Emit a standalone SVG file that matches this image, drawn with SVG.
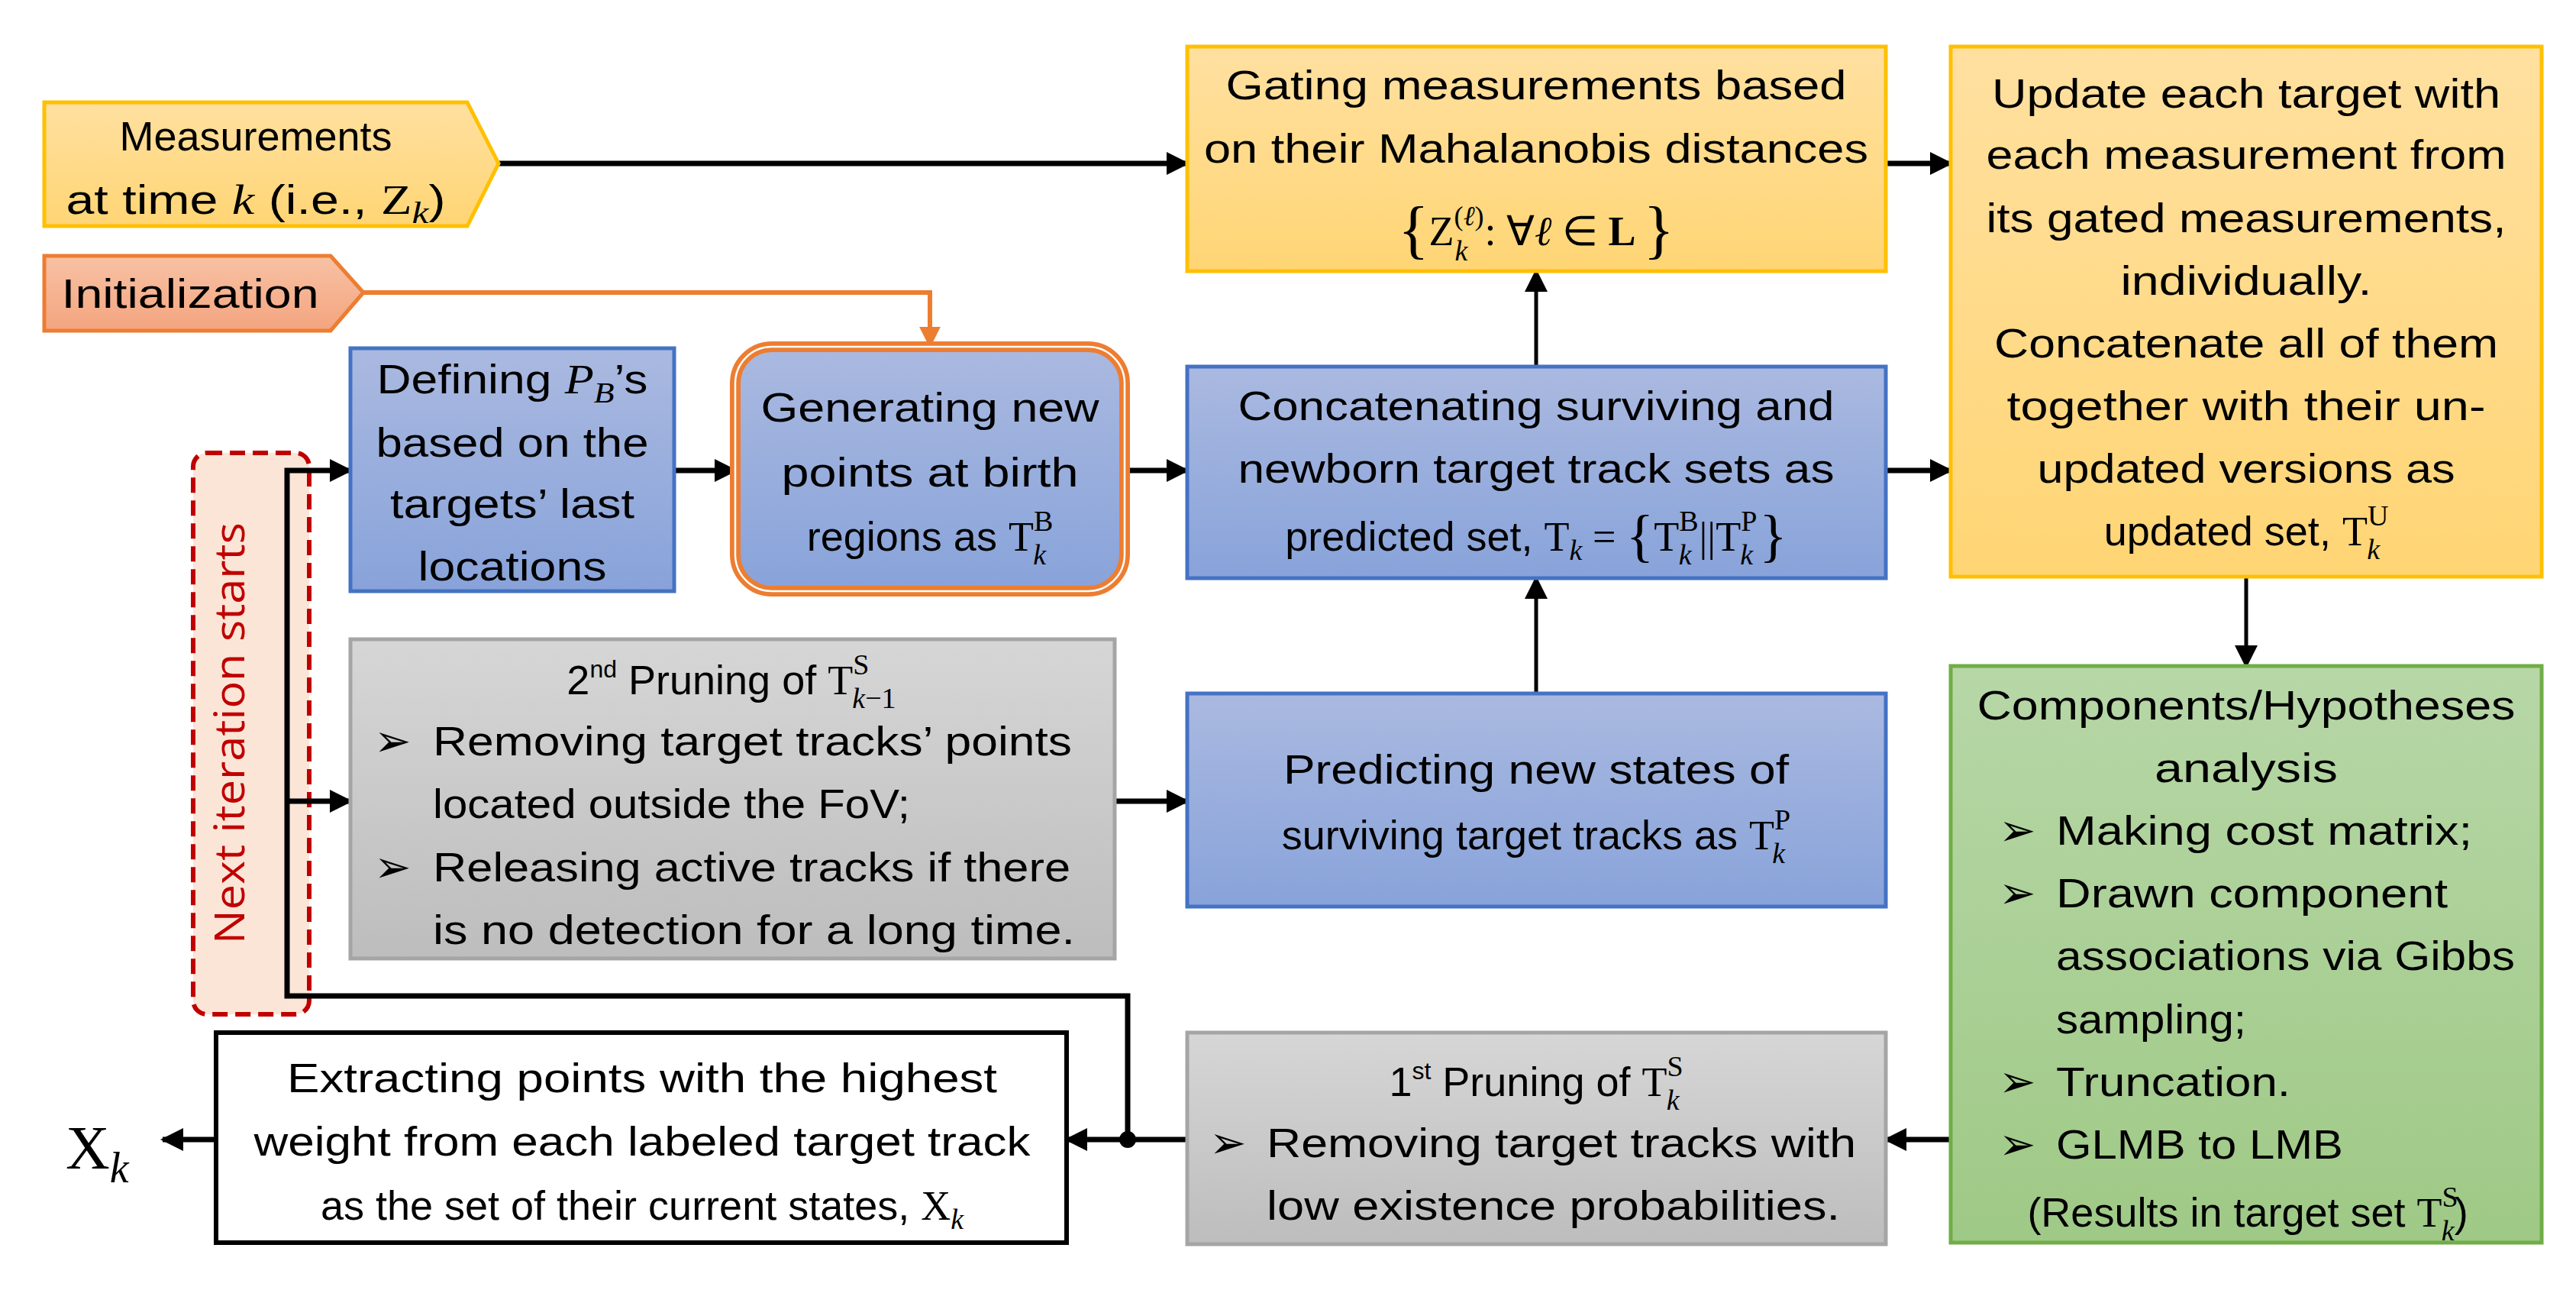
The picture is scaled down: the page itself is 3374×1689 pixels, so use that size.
<svg xmlns="http://www.w3.org/2000/svg" width="3374" height="1689" viewBox="0 0 3374 1689">
<style>
.t{font-family:"Liberation Sans",Arial,sans-serif;font-size:54px;fill:#000;text-anchor:middle}
.s{text-anchor:start}
.m{font-family:"Liberation Serif","Times New Roman",serif}
.i{font-style:italic;font-family:"Liberation Serif","Times New Roman",serif}
.b{font-family:"DejaVu Sans",sans-serif;font-size:58px}
.c{fill:none;stroke:#000;stroke-width:7}
.v{fill:none;stroke:#000;stroke-width:5}
</style>
<defs>
<linearGradient id="gy" x1="0" y1="0" x2="0" y2="1"><stop offset="0" stop-color="#FFE0A0"/><stop offset="1" stop-color="#FFD574"/></linearGradient>
<linearGradient id="gb" x1="0" y1="0" x2="0" y2="1"><stop offset="0" stop-color="#AAB9E0"/><stop offset="1" stop-color="#88A3DA"/></linearGradient>
<linearGradient id="gg" x1="0" y1="0" x2="0" y2="1"><stop offset="0" stop-color="#D6D6D6"/><stop offset="1" stop-color="#BDBDBD"/></linearGradient>
<linearGradient id="gr" x1="0" y1="0" x2="0" y2="1"><stop offset="0" stop-color="#B7D7A7"/><stop offset="1" stop-color="#9FC986"/></linearGradient>
<linearGradient id="go" x1="0" y1="0" x2="0" y2="1"><stop offset="0" stop-color="#F7C2A4"/><stop offset="1" stop-color="#F4A47F"/></linearGradient>
<marker id="a" viewBox="0 0 10 10" refX="9" refY="5" markerWidth="30" markerHeight="30" markerUnits="userSpaceOnUse" orient="auto"><path d="M0,0 L10,5 L0,10 z" fill="#000"/></marker>
<marker id="ao" viewBox="0 0 10 10" refX="9" refY="5" markerWidth="28" markerHeight="28" markerUnits="userSpaceOnUse" orient="auto"><path d="M0,0 L10,5 L0,10 z" fill="#ED7D31"/></marker>
</defs>
<rect width="3374" height="1689" fill="#fff"/>

<g id="next-iteration">
<rect x="253" y="593" width="152" height="735" rx="18" fill="#FBE5D6" stroke="#C00000" stroke-width="6" stroke-dasharray="20,10"/>
<text class="t" transform="translate(320,960) rotate(-90)" style="font-family:'Open Sans','Liberation Sans',sans-serif;fill:#C00000" font-size="58" textLength="552" lengthAdjust="spacingAndGlyphs">Next iteration starts</text>
</g>

<g id="connectors">
<path class="c" d="M653,214 H1555" marker-end="url(#a)"/>
<path d="M476,383 H1218 V453" fill="none" stroke="#ED7D31" stroke-width="6" marker-end="url(#ao)"/>
<path class="c" d="M2470,214 H2555" marker-end="url(#a)"/>
<path class="c" d="M1477,1492 V1304 H376 V616 H459" marker-end="url(#a)"/>
<path class="c" d="M376,1049 H459" marker-end="url(#a)"/>
<path class="c" d="M883,616 H963" marker-end="url(#a)"/>
<path class="c" d="M1473,616 H1555" marker-end="url(#a)"/>
<path class="c" d="M2470,616 H2555" marker-end="url(#a)"/>
<path class="v" d="M2012,480 V355" marker-end="url(#a)"/>
<path class="v" d="M2012,908 V757" marker-end="url(#a)"/>
<path class="c" d="M1460,1049 H1555" marker-end="url(#a)"/>
<path class="v" d="M2942,755 V872" marker-end="url(#a)"/>
<path class="c" d="M2555,1492 H2470" marker-end="url(#a)"/>
<path class="c" d="M1555,1492 H1397" marker-end="url(#a)"/>
<path class="c" d="M283,1492 H213" marker-end="url(#a)"/>
<circle cx="1477" cy="1492" r="11" fill="#000"/>
</g>

<g id="measurements">
<path d="M58,134 H612 L653,214 L612,296 H58 Z" fill="url(#gy)" stroke="#FFC000" stroke-width="5"/>
<text class="t" x="335" y="197" font-size="58" textLength="357" lengthAdjust="spacingAndGlyphs">Measurements</text>
<text class="t" x="335" y="280" font-size="58" textLength="497" lengthAdjust="spacingAndGlyphs">at time <tspan class="i">k</tspan> (i.e., <tspan class="m">Z</tspan><tspan class="i" font-size="40" dy="12">k</tspan><tspan dy="-12">)</tspan></text>
</g>

<g id="initialization">
<path d="M58,335 H433 L476,383 L433,433 H58 Z" fill="url(#go)" stroke="#ED7D31" stroke-width="5"/>
<text class="t" x="249" y="403" font-size="58" textLength="337" lengthAdjust="spacingAndGlyphs">Initialization</text>
</g>

<g id="gating">
<rect x="1555" y="61" width="915" height="294" fill="url(#gy)" stroke="#FFC000" stroke-width="5"/>
<text class="t" x="2012" y="130" textLength="813" lengthAdjust="spacingAndGlyphs">Gating measurements based</text>
<text class="t" x="2012" y="213" textLength="870" lengthAdjust="spacingAndGlyphs">on their Mahalanobis distances</text>
<text class="t m" x="2012" y="321"><tspan font-size="84" dy="8">{</tspan><tspan dy="-8">Z</tspan><tspan font-size="36" dy="-26">(</tspan><tspan class="i" font-size="36">ℓ</tspan><tspan font-size="36">)</tspan><tspan class="i" font-size="38" dx="-38" dy="46">k</tspan><tspan dx="22" dy="-20">:   ∀</tspan><tspan class="i">ℓ</tspan><tspan> ∈ </tspan><tspan font-weight="bold">L</tspan><tspan font-size="84" dx="10" dy="8">}</tspan></text>
</g>

<g id="update">
<rect x="2555" y="61" width="774" height="694" fill="url(#gy)" stroke="#FFC000" stroke-width="5"/>
<text class="t" x="2942" y="141" textLength="666" lengthAdjust="spacingAndGlyphs">Update each target with</text>
<text class="t" x="2942" y="221" textLength="681" lengthAdjust="spacingAndGlyphs">each measurement from</text>
<text class="t" x="2942" y="304" textLength="681" lengthAdjust="spacingAndGlyphs">its gated measurements,</text>
<text class="t" x="2942" y="386" textLength="329" lengthAdjust="spacingAndGlyphs">individually.</text>
<text class="t" x="2942" y="468" textLength="660" lengthAdjust="spacingAndGlyphs">Concatenate all of them</text>
<text class="t" x="2942" y="550" textLength="627" lengthAdjust="spacingAndGlyphs">together with their un-</text>
<text class="t" x="2942" y="632" textLength="547" lengthAdjust="spacingAndGlyphs">updated versions as</text>
<text class="t" x="2942" y="714">updated set,  <tspan class="m">T</tspan><tspan class="m" font-size="38" dy="-26">U</tspan><tspan class="i" font-size="38" dx="-28" dy="44">k</tspan></text>
</g>

<g id="defining">
<rect x="459" y="456" width="424" height="318" fill="url(#gb)" stroke="#4472C4" stroke-width="5"/>
<text class="t" x="671" y="515" textLength="355" lengthAdjust="spacingAndGlyphs">Defining <tspan class="i">P</tspan><tspan class="i" font-size="38" dy="12">B</tspan><tspan dy="-12">’s</tspan></text>
<text class="t" x="671" y="598" textLength="357" lengthAdjust="spacingAndGlyphs">based on the</text>
<text class="t" x="671" y="678" textLength="320" lengthAdjust="spacingAndGlyphs">targets’ last</text>
<text class="t" x="671" y="760" textLength="247" lengthAdjust="spacingAndGlyphs">locations</text>
</g>

<g id="generating">
<rect x="963" y="454" width="510" height="320" rx="48" fill="url(#gb)" stroke="#ED7D31" stroke-width="14"/>
<rect x="963" y="454" width="510" height="320" rx="48" fill="none" stroke="#fff" stroke-width="2.5"/>
<text class="t" x="1218" y="552" textLength="443" lengthAdjust="spacingAndGlyphs">Generating new</text>
<text class="t" x="1218" y="637" textLength="389" lengthAdjust="spacingAndGlyphs">points at birth</text>
<text class="t" x="1218" y="721">regions as <tspan class="m">T</tspan><tspan class="m" font-size="38" dy="-26">B</tspan><tspan class="i" font-size="38" dx="-26" dy="44">k</tspan></text>
</g>

<g id="concatenating">
<rect x="1555" y="480" width="915" height="277" fill="url(#gb)" stroke="#4472C4" stroke-width="5"/>
<text class="t" x="2012" y="550" textLength="781" lengthAdjust="spacingAndGlyphs">Concatenating surviving and</text>
<text class="t" x="2012" y="632" textLength="781" lengthAdjust="spacingAndGlyphs">newborn target track sets as</text>
<text class="t" x="2012" y="721">predicted set,  <tspan class="m">T</tspan><tspan class="i" font-size="38" dy="12">k</tspan><tspan class="m" dy="-12"> = </tspan><tspan class="m" font-size="76" dy="6">{</tspan><tspan class="m" dy="-6">T</tspan><tspan class="m" font-size="38" dy="-26">B</tspan><tspan class="i" font-size="38" dx="-26" dy="44">k</tspan><tspan class="m" dx="10" dy="-18">||T</tspan><tspan class="m" font-size="38" dy="-26">P</tspan><tspan class="i" font-size="38" dx="-22" dy="44">k</tspan><tspan class="m" font-size="76" dx="8" dy="-12">}</tspan></text>
</g>

<g id="pruning2">
<rect x="459" y="837" width="1001" height="418" fill="url(#gg)" stroke="#A5A5A5" stroke-width="5"/>
<text class="t" x="958" y="909">2<tspan font-size="32" dy="-22">nd</tspan><tspan dy="22"> Pruning of </tspan><tspan class="m">T</tspan><tspan class="m" font-size="38" dy="-26">S</tspan><tspan class="i" font-size="38" dx="-22" dy="44">k</tspan><tspan class="m" font-size="38">−1</tspan></text>
<text class="t b s" x="490" y="990">➢</text>
<text class="t s" x="567" y="989" textLength="837" lengthAdjust="spacingAndGlyphs">Removing target tracks’ points</text>
<text class="t s" x="567" y="1071" textLength="625" lengthAdjust="spacingAndGlyphs">located outside the FoV;</text>
<text class="t b s" x="490" y="1155">➢</text>
<text class="t s" x="567" y="1154" textLength="835" lengthAdjust="spacingAndGlyphs">Releasing active tracks if there</text>
<text class="t s" x="567" y="1236" textLength="841" lengthAdjust="spacingAndGlyphs">is no detection for a long time.</text>
</g>

<g id="predicting">
<rect x="1555" y="908" width="915" height="279" fill="url(#gb)" stroke="#4472C4" stroke-width="5"/>
<text class="t" x="2012" y="1026" textLength="662" lengthAdjust="spacingAndGlyphs">Predicting new states of</text>
<text class="t" x="2012" y="1112">surviving target tracks as <tspan class="m">T</tspan><tspan class="m" font-size="38" dy="-26">P</tspan><tspan class="i" font-size="38" dx="-24" dy="44">k</tspan></text>
</g>

<g id="components">
<rect x="2555" y="872" width="774" height="755" fill="url(#gr)" stroke="#70AD47" stroke-width="5"/>
<text class="t" x="2942" y="942" textLength="705" lengthAdjust="spacingAndGlyphs">Components/Hypotheses</text>
<text class="t" x="2942" y="1024" textLength="240" lengthAdjust="spacingAndGlyphs">analysis</text>
<text class="t b s" x="2618" y="1107">➢</text>
<text class="t s" x="2693" y="1106" textLength="545" lengthAdjust="spacingAndGlyphs">Making cost matrix;</text>
<text class="t b s" x="2618" y="1189">➢</text>
<text class="t s" x="2693" y="1188" textLength="513" lengthAdjust="spacingAndGlyphs">Drawn component</text>
<text class="t s" x="2693" y="1270" textLength="601" lengthAdjust="spacingAndGlyphs">associations via Gibbs</text>
<text class="t s" x="2693" y="1353" textLength="249" lengthAdjust="spacingAndGlyphs">sampling;</text>
<text class="t b s" x="2618" y="1436">➢</text>
<text class="t s" x="2693" y="1435" textLength="307" lengthAdjust="spacingAndGlyphs">Truncation.</text>
<text class="t b s" x="2618" y="1518">➢</text>
<text class="t s" x="2693" y="1517" textLength="376" lengthAdjust="spacingAndGlyphs">GLMB to LMB</text>
<text class="t" x="2944" y="1606">(Results in target set <tspan class="m">T</tspan><tspan class="m" font-size="38" dy="-26">S</tspan><tspan class="i" font-size="38" dx="-22" dy="44">k</tspan><tspan dy="-18">)</tspan></text>
</g>

<g id="pruning1">
<rect x="1555" y="1352" width="915" height="277" fill="url(#gg)" stroke="#A5A5A5" stroke-width="5"/>
<text class="t" x="2012" y="1435">1<tspan font-size="32" dy="-22">st</tspan><tspan dy="22"> Pruning of </tspan><tspan class="m">T</tspan><tspan class="m" font-size="38" dy="-26">S</tspan><tspan class="i" font-size="38" dx="-22" dy="44">k</tspan></text>
<text class="t b s" x="1584" y="1516">➢</text>
<text class="t s" x="1659" y="1515" textLength="772" lengthAdjust="spacingAndGlyphs">Removing target tracks with</text>
<text class="t s" x="1659" y="1597" textLength="751" lengthAdjust="spacingAndGlyphs">low existence probabilities.</text>
</g>

<g id="extracting">
<rect x="283" y="1352" width="1114" height="275" fill="#fff" stroke="#000" stroke-width="6"/>
<text class="t" x="841" y="1430" textLength="930" lengthAdjust="spacingAndGlyphs">Extracting points with the highest</text>
<text class="t" x="841" y="1513" textLength="1017" lengthAdjust="spacingAndGlyphs">weight from each labeled target track</text>
<text class="t" x="841" y="1597">as the set of their current states, <tspan class="m">X</tspan><tspan class="i" font-size="38" dy="12">k</tspan></text>
</g>

<g id="output-xk">
<text class="m" x="86" y="1530" font-size="80">X<tspan class="i" font-size="56" dy="18">k</tspan></text>
</g>
</svg>
